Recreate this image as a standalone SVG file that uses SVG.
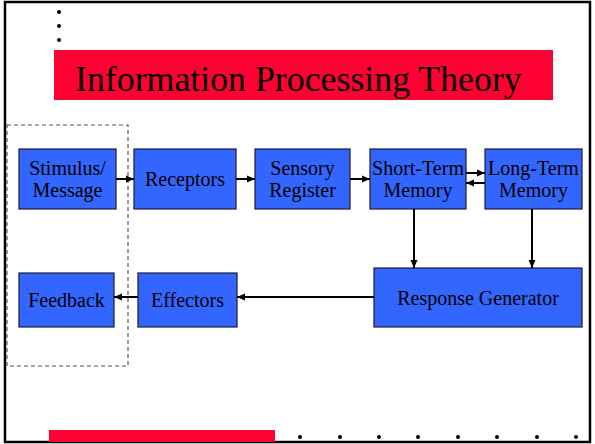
<svg xmlns="http://www.w3.org/2000/svg" width="595" height="444" viewBox="0 0 595 444">
<style>
.box{fill:#3366FF;stroke:#1a1a3a;stroke-width:1.2}
.t{font-family:"Liberation Serif","Times New Roman",serif;font-size:20px;fill:#000;text-anchor:middle}
.ln{stroke:#000;stroke-width:2;fill:none}
.dot{fill:#000}
</style>
<defs>
<marker id="ah" markerWidth="9" markerHeight="9" refX="8" refY="4.5" orient="auto" markerUnits="userSpaceOnUse">
<path d="M0,1 L8,4.5 L0,8 Z" fill="#000"/>
</marker>
</defs>
<rect width="595" height="444" fill="#fff"/>
<rect x="5" y="2" width="585" height="440" fill="none" stroke="#000" stroke-width="2.5"/>
<g id="decor">
<circle class="dot" cx="59" cy="12" r="2"/>
<circle class="dot" cx="59" cy="26" r="2"/>
<circle class="dot" cx="59" cy="40" r="2"/>
<rect x="54" y="50" width="499" height="50" fill="#FF0033"/>
<text x="75" y="91" font-family="'Liberation Serif','Times New Roman',serif" font-size="35.8" fill="#000">Information Processing Theory</text>
<rect x="49" y="430" width="226" height="12" fill="#FF0033"/>
<circle class="dot" cx="300" cy="437" r="2"/>
<circle class="dot" cx="340" cy="437" r="2"/>
<circle class="dot" cx="379" cy="437" r="2"/>
<circle class="dot" cx="418" cy="437" r="2"/>
<circle class="dot" cx="458" cy="437" r="2"/>
<circle class="dot" cx="497" cy="437" r="2"/>
<circle class="dot" cx="537" cy="437" r="2"/>
<circle class="dot" cx="576" cy="437" r="2"/>
<rect x="7" y="125" width="121" height="241" fill="none" stroke="#555" stroke-width="1.2" stroke-dasharray="4,3"/>
</g>
<g id="stimulus"><rect class="box" x="19" y="149" width="97" height="60"/><text class="t" x="67.5" y="175">Stimulus/</text><text class="t" x="67.5" y="197">Message</text></g>
<g id="receptors"><rect class="box" x="134" y="149" width="102" height="60"/><text class="t" x="185" y="186">Receptors</text></g>
<g id="sensory"><rect class="box" x="255" y="149" width="95" height="60"/><text class="t" x="302.5" y="175">Sensory</text><text class="t" x="302.5" y="197">Register</text></g>
<g id="short"><rect class="box" x="370" y="149" width="96" height="60"/><text class="t" x="418" y="175">Short-Term</text><text class="t" x="418" y="197">Memory</text></g>
<g id="long"><rect class="box" x="485" y="149" width="97" height="60"/><text class="t" x="533.5" y="175">Long-Term</text><text class="t" x="533.5" y="197">Memory</text></g>
<g id="feedback"><rect class="box" x="19" y="273" width="95" height="54"/><text class="t" x="66.5" y="307">Feedback</text></g>
<g id="effectors"><rect class="box" x="138" y="273" width="99" height="54"/><text class="t" x="187.5" y="307">Effectors</text></g>
<g id="response"><rect class="box" x="374" y="268" width="208" height="59"/><text class="t" x="478" y="305">Response Generator</text></g>
<g id="connectors">
<line class="ln" x1="116" y1="179" x2="134" y2="179" marker-end="url(#ah)"/>
<line class="ln" x1="236" y1="179" x2="255" y2="179" marker-end="url(#ah)"/>
<line class="ln" x1="350" y1="179" x2="370" y2="179" marker-end="url(#ah)"/>
<line class="ln" x1="466" y1="173" x2="485" y2="173" marker-end="url(#ah)"/>
<line class="ln" x1="485" y1="183" x2="466" y2="183" marker-end="url(#ah)"/>
<line class="ln" x1="414" y1="209" x2="414" y2="268" marker-end="url(#ah)"/>
<line class="ln" x1="532" y1="209" x2="532" y2="268" marker-end="url(#ah)"/>
<line class="ln" x1="374" y1="297" x2="237" y2="297" marker-end="url(#ah)"/>
<line class="ln" x1="138" y1="297" x2="114" y2="297" marker-end="url(#ah)"/>
</g>
</svg>
